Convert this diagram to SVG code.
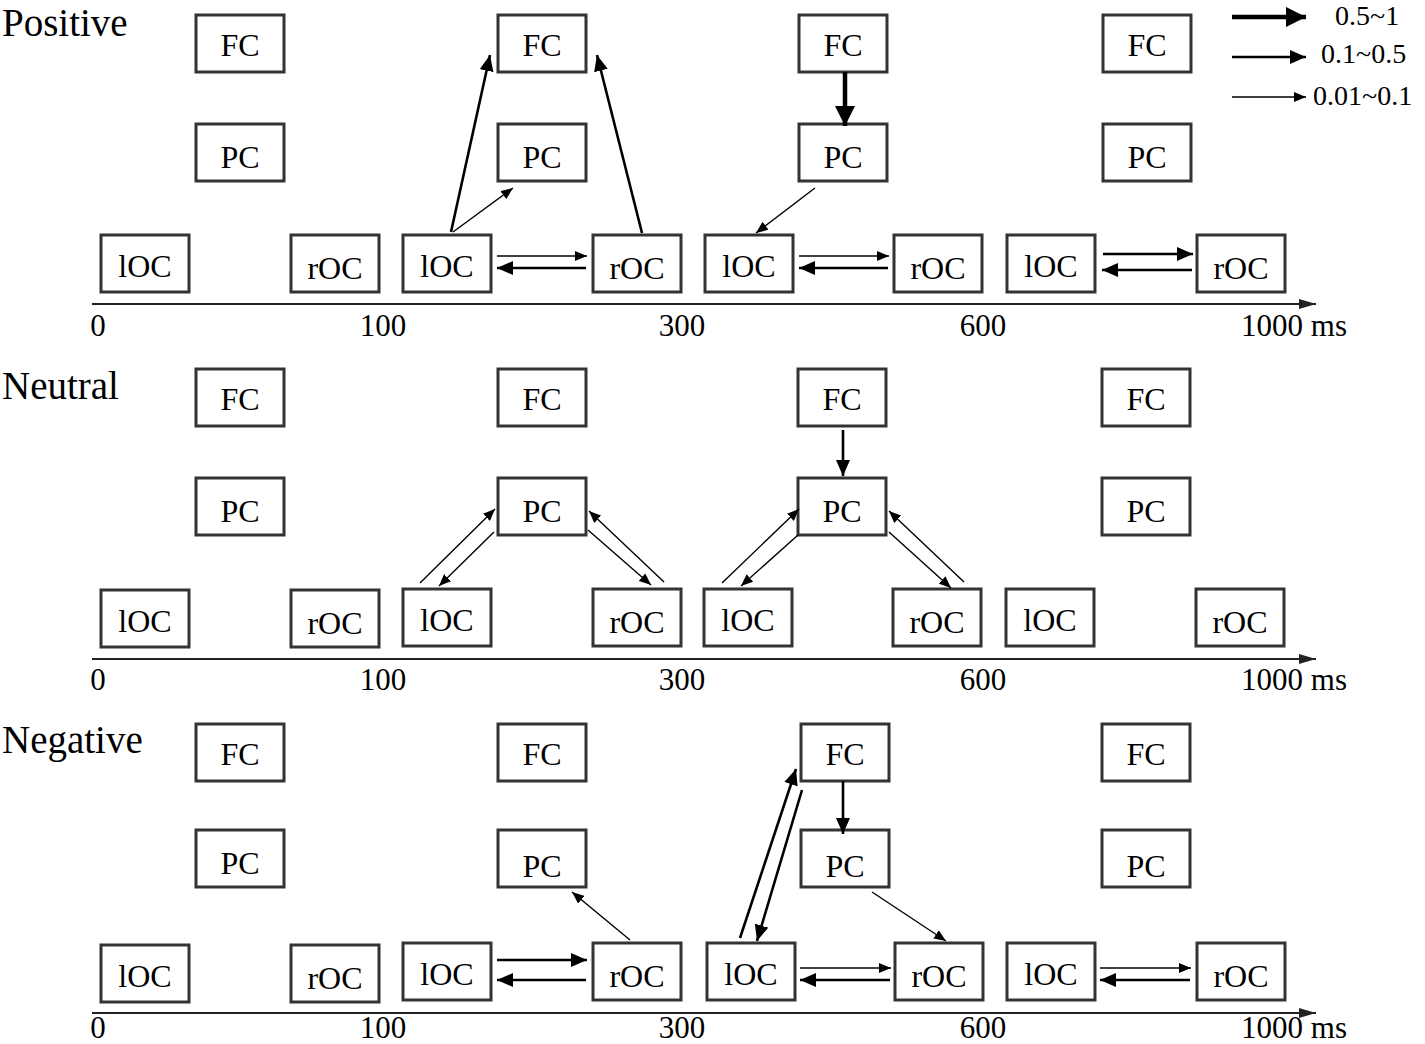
<svg xmlns="http://www.w3.org/2000/svg" width="1425" height="1044" viewBox="0 0 1425 1044">
<style>
.b rect{fill:#fff;stroke:#333;stroke-width:3}
text{font-family:"Liberation Serif",serif;fill:#000}
.b text{font-size:32px;text-anchor:middle}
.t{font-size:39px}
.ax{font-size:31px;text-anchor:middle}
.lg{font-size:28px}
line{stroke:#000}
.k{stroke-width:4.5;marker-end:url(#mk)}
.m{stroke-width:2.6;marker-end:url(#mm)}
.s{stroke-width:1.4;marker-end:url(#ms)}
.axis{stroke:#222;stroke-width:2;marker-end:url(#ma)}
</style>
<defs>
<marker id="mk" markerUnits="userSpaceOnUse" markerWidth="24" markerHeight="20" refX="20" refY="10" orient="auto"><path d="M0,0 L20,10 L0,20z"/></marker>
<marker id="mm" markerUnits="userSpaceOnUse" markerWidth="18" markerHeight="14" refX="16" refY="7" orient="auto"><path d="M0,0 L16,7 L0,14z"/></marker>
<marker id="ms" markerUnits="userSpaceOnUse" markerWidth="14" markerHeight="10" refX="12" refY="5" orient="auto"><path d="M0,0 L12,5 L0,10z"/></marker>
<marker id="ma" markerUnits="userSpaceOnUse" markerWidth="18" markerHeight="10" refX="17" refY="5" orient="auto"><path d="M0,0 L17,5 L0,10z" fill="#222"/></marker>
</defs>

<text class="t" x="2" y="36">Positive</text>
<text class="t" x="2" y="399">Neutral</text>
<text class="t" x="2" y="753">Negative</text>

<!-- Positive nodes -->
<g class="b" id="p-fc1"><rect x="196" y="15" width="88" height="57"/><text x="240" y="56">FC</text></g>
<g class="b" id="p-fc2"><rect x="498" y="15" width="88" height="57"/><text x="542" y="56">FC</text></g>
<g class="b" id="p-fc3"><rect x="799" y="15" width="88" height="57"/><text x="843" y="56">FC</text></g>
<g class="b" id="p-fc4"><rect x="1103" y="15" width="88" height="57"/><text x="1147" y="56">FC</text></g>
<g class="b" id="p-pc1"><rect x="196" y="124" width="88" height="57"/><text x="240" y="168">PC</text></g>
<g class="b" id="p-pc2"><rect x="498" y="124" width="88" height="57"/><text x="542" y="168">PC</text></g>
<g class="b" id="p-pc3"><rect x="799" y="124" width="88" height="57"/><text x="843" y="168">PC</text></g>
<g class="b" id="p-pc4"><rect x="1103" y="124" width="88" height="57"/><text x="1147" y="168">PC</text></g>
<g class="b" id="p-l1"><rect x="101" y="235" width="88" height="57"/><text x="145" y="277">lOC</text></g>
<g class="b" id="p-r1"><rect x="291" y="235" width="88" height="57"/><text x="335" y="279">rOC</text></g>
<g class="b" id="p-l2"><rect x="403" y="235" width="88" height="57"/><text x="447" y="277">lOC</text></g>
<g class="b" id="p-r2"><rect x="593" y="235" width="88" height="57"/><text x="637" y="279">rOC</text></g>
<g class="b" id="p-l3"><rect x="705" y="235" width="88" height="57"/><text x="749" y="277">lOC</text></g>
<g class="b" id="p-r3"><rect x="894" y="235" width="88" height="57"/><text x="938" y="279">rOC</text></g>
<g class="b" id="p-l4"><rect x="1007" y="235" width="88" height="57"/><text x="1051" y="277">lOC</text></g>
<g class="b" id="p-r4"><rect x="1197" y="235" width="88" height="57"/><text x="1241" y="279">rOC</text></g>

<!-- Neutral nodes -->
<g class="b" id="n-fc1"><rect x="196" y="369" width="88" height="57"/><text x="240" y="410">FC</text></g>
<g class="b" id="n-fc2"><rect x="498" y="369" width="88" height="57"/><text x="542" y="410">FC</text></g>
<g class="b" id="n-fc3"><rect x="798" y="369" width="88" height="57"/><text x="842" y="410">FC</text></g>
<g class="b" id="n-fc4"><rect x="1102" y="369" width="88" height="57"/><text x="1146" y="410">FC</text></g>
<g class="b" id="n-pc1"><rect x="196" y="478" width="88" height="57"/><text x="240" y="522">PC</text></g>
<g class="b" id="n-pc2"><rect x="498" y="478" width="88" height="57"/><text x="542" y="522">PC</text></g>
<g class="b" id="n-pc3"><rect x="798" y="478" width="88" height="57"/><text x="842" y="522">PC</text></g>
<g class="b" id="n-pc4"><rect x="1102" y="478" width="88" height="57"/><text x="1146" y="522">PC</text></g>
<g class="b" id="n-l1"><rect x="101" y="590" width="88" height="57"/><text x="145" y="632">lOC</text></g>
<g class="b" id="n-r1"><rect x="291" y="590" width="88" height="57"/><text x="335" y="634">rOC</text></g>
<g class="b" id="n-l2"><rect x="403" y="589" width="88" height="57"/><text x="447" y="631">lOC</text></g>
<g class="b" id="n-r2"><rect x="593" y="589" width="88" height="57"/><text x="637" y="633">rOC</text></g>
<g class="b" id="n-l3"><rect x="704" y="589" width="88" height="57"/><text x="748" y="631">lOC</text></g>
<g class="b" id="n-r3"><rect x="893" y="589" width="88" height="57"/><text x="937" y="633">rOC</text></g>
<g class="b" id="n-l4"><rect x="1006" y="589" width="88" height="57"/><text x="1050" y="631">lOC</text></g>
<g class="b" id="n-r4"><rect x="1196" y="589" width="88" height="57"/><text x="1240" y="633">rOC</text></g>

<!-- Negative nodes -->
<g class="b" id="g-fc1"><rect x="196" y="724" width="88" height="57"/><text x="240" y="765">FC</text></g>
<g class="b" id="g-fc2"><rect x="498" y="724" width="88" height="57"/><text x="542" y="765">FC</text></g>
<g class="b" id="g-fc3"><rect x="801" y="724" width="88" height="57"/><text x="845" y="765">FC</text></g>
<g class="b" id="g-fc4"><rect x="1102" y="724" width="88" height="57"/><text x="1146" y="765">FC</text></g>
<g class="b" id="g-pc1"><rect x="196" y="830" width="88" height="57"/><text x="240" y="874">PC</text></g>
<g class="b" id="g-pc2"><rect x="498" y="830" width="88" height="57"/><text x="542" y="877">PC</text></g>
<g class="b" id="g-pc3"><rect x="801" y="830" width="88" height="57"/><text x="845" y="877">PC</text></g>
<g class="b" id="g-pc4"><rect x="1102" y="830" width="88" height="57"/><text x="1146" y="877">PC</text></g>
<g class="b" id="g-l1"><rect x="101" y="945" width="88" height="57"/><text x="145" y="987">lOC</text></g>
<g class="b" id="g-r1"><rect x="291" y="945" width="88" height="57"/><text x="335" y="989">rOC</text></g>
<g class="b" id="g-l2"><rect x="403" y="943" width="88" height="57"/><text x="447" y="985">lOC</text></g>
<g class="b" id="g-r2"><rect x="593" y="943" width="88" height="57"/><text x="637" y="987">rOC</text></g>
<g class="b" id="g-l3"><rect x="707" y="943" width="88" height="57"/><text x="751" y="985">lOC</text></g>
<g class="b" id="g-r3"><rect x="895" y="943" width="88" height="57"/><text x="939" y="987">rOC</text></g>
<g class="b" id="g-l4"><rect x="1007" y="943" width="88" height="57"/><text x="1051" y="985">lOC</text></g>
<g class="b" id="g-r4"><rect x="1197" y="943" width="88" height="57"/><text x="1241" y="987">rOC</text></g>

<g id="connectors">
<!-- Positive -->
<line class="m" x1="451" y1="232" x2="490" y2="55"/>
<line class="s" x1="453" y1="232" x2="513" y2="188"/>
<line class="m" x1="642" y1="233" x2="597" y2="55"/>
<line class="s" x1="497" y1="256" x2="587" y2="256"/>
<line class="m" x1="586" y1="268" x2="497" y2="268"/>
<line class="k" x1="845" y1="72" x2="845" y2="126"/>
<line class="s" x1="815" y1="188" x2="756" y2="233"/>
<line class="s" x1="799" y1="256" x2="889" y2="256"/>
<line class="m" x1="888" y1="268" x2="799" y2="268"/>
<line class="m" x1="1103" y1="254" x2="1193" y2="254"/>
<line class="m" x1="1192" y1="270" x2="1102" y2="270"/>
<!-- Neutral -->
<line class="s" x1="420" y1="583" x2="495" y2="509"/>
<line class="s" x1="494" y1="532" x2="439" y2="586"/>
<line class="s" x1="588" y1="530" x2="651" y2="585"/>
<line class="s" x1="664" y1="582" x2="589" y2="511"/>
<line class="s" x1="722" y1="583" x2="799" y2="509"/>
<line class="s" x1="798" y1="535" x2="741" y2="586"/>
<line class="s" x1="889" y1="532" x2="951" y2="588"/>
<line class="s" x1="964" y1="582" x2="889" y2="511"/>
<line class="m" x1="843" y1="430" x2="843" y2="476"/>
<!-- Negative -->
<line class="s" x1="630" y1="940" x2="572" y2="892"/>
<line class="m" x1="497" y1="960" x2="587" y2="960"/>
<line class="m" x1="586" y1="980" x2="497" y2="980"/>
<line class="m" x1="740" y1="938" x2="796" y2="769"/>
<line class="m" x1="802" y1="790" x2="757" y2="941"/>
<line class="m" x1="843" y1="781" x2="843" y2="834"/>
<line class="s" x1="872" y1="892" x2="946" y2="941"/>
<line class="s" x1="800" y1="968" x2="891" y2="968"/>
<line class="m" x1="890" y1="980" x2="800" y2="980"/>
<line class="s" x1="1100" y1="968" x2="1191" y2="968"/>
<line class="m" x1="1190" y1="980" x2="1100" y2="980"/>
<!-- Axes -->
<line class="axis" x1="92" y1="304" x2="1316" y2="304"/>
<line class="axis" x1="92" y1="659" x2="1316" y2="659"/>
<line class="axis" x1="92" y1="1013" x2="1316" y2="1013"/>
<!-- Legend -->
<line class="k" x1="1232" y1="17" x2="1306" y2="17"/>
<line class="m" x1="1232" y1="57" x2="1306" y2="57"/>
<line class="s" x1="1232" y1="97" x2="1306" y2="97"/>
</g>

<text class="lg" x="1335" y="25">0.5~1</text>
<text class="lg" x="1321" y="63">0.1~0.5</text>
<text class="lg" x="1313" y="105">0.01~0.1</text>

<g class="ax">
<text x="98" y="336">0</text><text x="383" y="336">100</text><text x="682" y="336">300</text><text x="983" y="336">600</text><text x="1294" y="336">1000 ms</text>
<text x="98" y="690">0</text><text x="383" y="690">100</text><text x="682" y="690">300</text><text x="983" y="690">600</text><text x="1294" y="690">1000 ms</text>
<text x="98" y="1038">0</text><text x="383" y="1038">100</text><text x="682" y="1038">300</text><text x="983" y="1038">600</text><text x="1294" y="1038">1000 ms</text>
</g>
</svg>
